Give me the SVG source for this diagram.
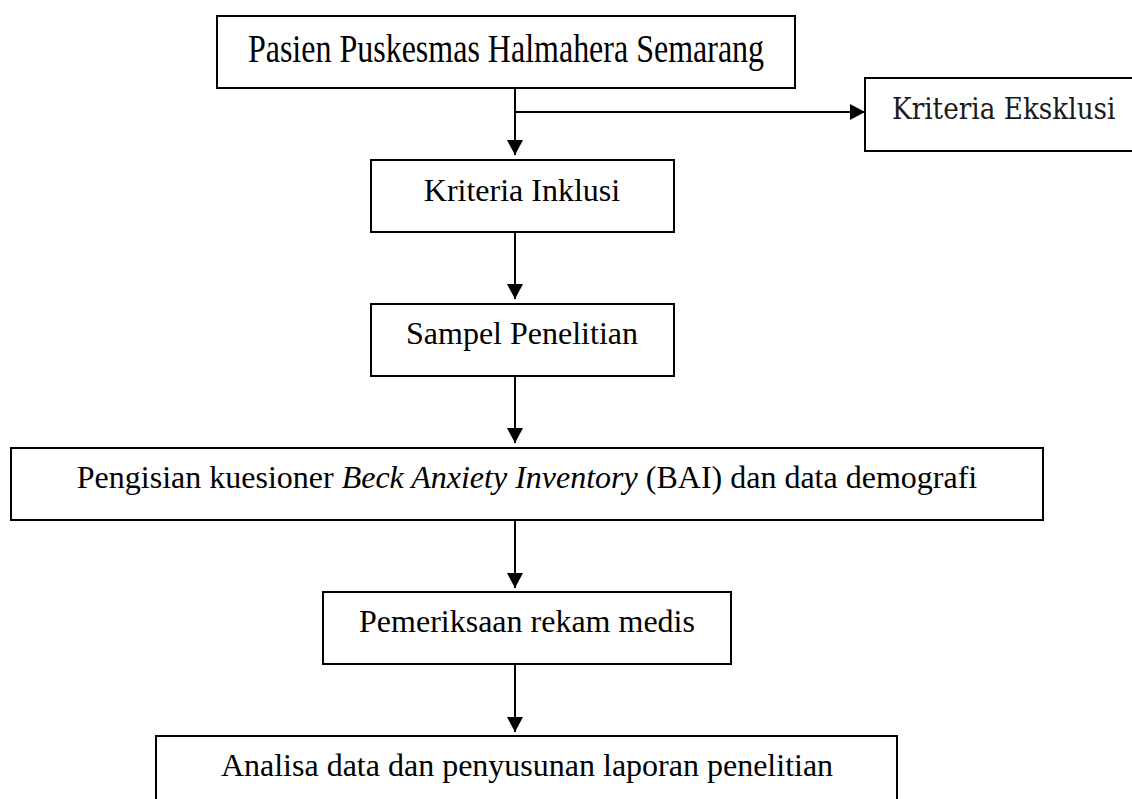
<svg xmlns="http://www.w3.org/2000/svg" width="1132" height="799" viewBox="0 0 1132 799">
<style>
.box{fill:#fff;stroke:#000;stroke-width:2}
.t{font-family:"Liberation Serif","Times New Roman",serif;font-size:32px;fill:#000;text-anchor:middle}
.c{font-family:"DejaVu Serif","Liberation Serif",serif;font-size:26.3px;fill:#1a1a1a}
.ln{fill:none;stroke:#000;stroke-width:2}
</style>
<defs>
<marker id="ah" markerUnits="userSpaceOnUse" markerWidth="16" markerHeight="17" refX="15" refY="8" orient="auto">
<path d="M0,0 L15,8 L0,16 z" fill="#000"/>
</marker>
</defs>
<rect width="1132" height="799" fill="#fff"/>
<g id="connectors">
<line class="ln" x1="515" y1="88" x2="515" y2="155" marker-end="url(#ah)"/>
<line class="ln" x1="515" y1="112" x2="865" y2="112" marker-end="url(#ah)"/>
<line class="ln" x1="515" y1="232" x2="515" y2="299" marker-end="url(#ah)"/>
<line class="ln" x1="515" y1="376" x2="515" y2="443" marker-end="url(#ah)"/>
<line class="ln" x1="515" y1="520" x2="515" y2="588" marker-end="url(#ah)"/>
<line class="ln" x1="515" y1="664" x2="515" y2="732" marker-end="url(#ah)"/>
</g>
<g id="node-pasien">
<rect class="box" x="217" y="16" width="578" height="72"/>
<text class="t" transform="translate(506,62) scale(1,1.22)">Pasien Puskesmas Halmahera Semarang</text>
</g>
<g id="node-eksklusi">
<path class="box" d="M1132,78 H865 V151 H1132"/>
<text class="c" transform="translate(892,119) scale(1,1.12)">Kriteria Eksklusi</text>
</g>
<g id="node-inklusi">
<rect class="box" x="371" y="160" width="303" height="72"/>
<text class="t" x="522" y="201">Kriteria Inklusi</text>
</g>
<g id="node-sampel">
<rect class="box" x="371" y="304" width="303" height="72"/>
<text class="t" x="522" y="344">Sampel Penelitian</text>
</g>
<g id="node-bai">
<rect class="box" x="11" y="448" width="1032" height="72"/>
<text class="t" x="527" y="488">Pengisian kuesioner <tspan font-style="italic">Beck Anxiety Inventory</tspan> (BAI) dan data demografi</text>
</g>
<g id="node-pemeriksaan">
<rect class="box" x="323" y="592" width="408" height="72"/>
<text class="t" x="527" y="632">Pemeriksaan rekam medis</text>
</g>
<g id="node-analisa">
<rect class="box" x="156" y="736" width="741" height="80"/>
<text class="t" x="527" y="776">Analisa data dan penyusunan laporan penelitian</text>
</g>
</svg>
